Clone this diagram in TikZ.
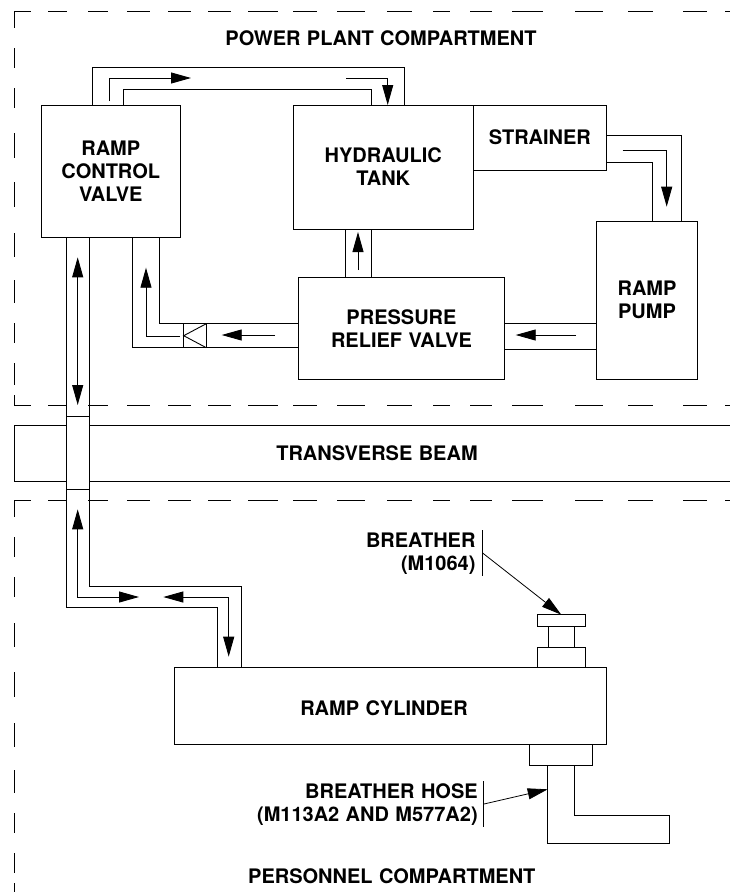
\documentclass[tikz,border=0pt]{standalone}
\usepackage{fontspec}
\setmainfont{TeX Gyre Heros}[WordSpace=1.15]
\usetikzlibrary{arrows.meta}
\newcommand{\boxnode}[6]{%
  \pgfmathsetmacro{\bw}{#4-#2}\pgfmathsetmacro{\bh}{#5-#3}%
  \pgfmathsetmacro{\bx}{(#2+#4)/2}\pgfmathsetmacro{\by}{(#3+#5)/2}%
  \node[boxshape,minimum width=\bw pt,minimum height=\bh pt] (#1) at (\bx,\by) {#6};}
\tikzset{
  lbl/.style={font=\bfseries\fontsize{20}{23}\selectfont,align=center,inner sep=0pt,outer sep=0pt},
  boxshape/.style={draw,lbl,line width=.9pt},
  pipe/.style={line width=.9pt,line join=miter},
  dashrule/.style={line width=.9pt},
  flow/.style={line width=.9pt,-{Triangle[length=20pt,width=11pt]}},
  dflow/.style={line width=.9pt,{Triangle[length=20pt,width=11pt]}-{Triangle[length=20pt,width=11pt]}},
  leader/.style={line width=.8pt,-{Triangle[length=20pt,width=11pt]}},
  bar/.style={line width=.9pt}
}
\begin{document}
\begin{tikzpicture}[x=1pt,y=-1pt]
\useasboundingbox (0,0) rectangle (730,892);
% compartment boundaries
\foreach \yy in {11,405,500}{
  \foreach \a/\b in {14/31,48/67,88/108,127/150,168/191,208/231,248/278,293/317,337/365,387/412,433/450,470/492,512/543,575/603,628/653,683/707,725/730}
    \draw[dashrule] (\a,\yy) -- (\b,\yy);
}
\foreach \a/\b in {11/28,48/68,88/108,133/158,182/207,233/257,280/303,323/343,363/385,395/405,
  500/517,537/557,577/597,623/647,672/697,723/747,770/793,813/833,853/873,883/892}
  \draw[dashrule] (14,\a) -- (14,\b);
% boxes
\boxnode{valve}{41}{105}{180.5}{237}{RAMP\\CONTROL\\VALVE}
\boxnode{tank}{293.5}{105}{473}{229}{HYDRAULIC\\TANK}
\boxnode{strainer}{473}{105}{606.7}{170}{STRAINER}
\boxnode{pump}{596.3}{221}{697.7}{379.5}{RAMP\\PUMP}
\boxnode{prv}{298.3}{277.5}{504.7}{379.5}{PRESSURE\\RELIEF VALVE}
\boxnode{cyl}{174}{667.7}{606}{744.7}{}
\boxnode{brcap}{537.3}{614.7}{585.3}{626}{}
\boxnode{brneck}{548}{626}{574}{647.3}{}
\boxnode{brbase}{537.3}{647.3}{585.3}{667.7}{}
\boxnode{hosecol}{529.3}{744.7}{592.7}{765.7}{}
% labels
\node[lbl] (t1) at (381,38.3) {POWER PLANT COMPARTMENT};
\node[lbl] (t2) at (377,453) {TRANSVERSE BEAM};
\node[lbl] (t3) at (384,707.7) {RAMP CYLINDER};
\node[lbl,align=right,anchor=east] (t4) at (475.5,554) {BREATHER\\(M1064)};
\node[lbl,align=right,anchor=east] (t5) at (477.7,805) {BREATHER HOSE\\(M113A2 AND M577A2)};
\node[lbl] (t6) at (391.8,875.7) {PERSONNEL COMPARTMENT};
% valve to tank pipe
\draw[pipe] ([xshift=51.5pt]valve.north west) -- ++(0,-38) -| ([xshift=110.5pt]tank.north west);
\draw[pipe] ([xshift=82pt]valve.north west) -- ++(0,-15.5) -| ([xshift=78.2pt]tank.north west);
\coordinate (f1a) at (109,101); \coordinate (f1b) at (191,78);
\draw[flow] (f1a) |- (f1b);
\coordinate (f2a) at (346,78);
\draw[flow] (f2a) -| ([xshift=94.2pt]tank.north west);
% prv to tank
\draw[pipe] ([xshift=51.5pt]tank.south west) -- ([xshift=46.7pt]prv.north west);
\draw[pipe] ([xshift=77.8pt]tank.south west) -- ([xshift=73pt]prv.north west);
\coordinate (f3a) at (358,270); \coordinate (f3b) at (358,232);
\draw[flow] (f3a) -- (f3b);
% prv to valve
\draw[pipe] ([yshift=-46.2pt]prv.north west) -- ++(-138.6,0) |- ([xshift=-20.8pt]valve.south east) ;
\draw[pipe] ([yshift=-70.2pt]prv.north west) -- ++(-165.6,0) -- ([xshift=91.7pt]valve.south west);
% check valve
\coordinate (cv1) at (183.7,323.7); \coordinate (cv2) at (183.7,347.7);
\coordinate (cv3) at (206.3,323.7); \coordinate (cv4) at (206.3,347.7);
\coordinate (cv5) at (183.7,335.7);
\draw[pipe] (cv1) -- (cv2);
\draw[pipe] (cv3) -- (cv4);
\draw[pipe] (cv3) -- (cv5) -- (cv4);
\coordinate (f4a) at (275,335); \coordinate (f4b) at (221.7,335);
\draw[flow] (f4a) -- (f4b);
\coordinate (f5a) at (180,336); \coordinate (f5b) at (146,267.7);
\draw[flow] (f5a) -| (f5b);
% pump to prv
\draw[pipe] ([yshift=-46.2pt]prv.north east) -- ([yshift=-102.7pt]pump.north west);
\draw[pipe] ([yshift=-71.5pt]prv.north east) -- ([yshift=-128pt]pump.north west);
\coordinate (f6a) at (576,335); \coordinate (f6b) at (515.7,335);
\draw[flow] (f6a) -- (f6b);
% strainer to pump
\draw[pipe] ([yshift=-30.7pt]strainer.north east) -| ([xshift=84.7pt]pump.north west);
\draw[pipe] ([yshift=-57.3pt]strainer.north east) -| ([xshift=56.4pt]pump.north west);
\coordinate (f7a) at (622.7,150.7); \coordinate (f7b) at (666.7,206.7);
\draw[flow] (f7a) -| (f7b);
% long pipe through the beam
\draw[pipe] ([xshift=25pt]valve.south west) -- ++(0,370.7) -| ([xshift=43.3pt]cyl.north west);
\draw[pipe] ([xshift=48pt]valve.south west) -- ++(0,349.7) -| ([xshift=67.7pt]cyl.north west);
\coordinate (c1) at (66,416.7); \coordinate (c2) at (89,416.7);
\coordinate (c3) at (66,489.3); \coordinate (c4) at (89,489.3);
\draw[pipe] (c1) -- (c2);
\draw[pipe] (c3) -- (c4);
\coordinate (f8a) at (77.7,257.3); \coordinate (f8b) at (77.7,405);
\draw[dflow] (f8a) -- (f8b);
\coordinate (f9a) at (77.7,509.3); \coordinate (f9b) at (139,597);
\draw[dflow] (f9a) |- (f9b);
\coordinate (f10a) at (163.3,597); \coordinate (f10b) at (228.7,656.7);
\draw[dflow] (f10a) -| (f10b);
% transverse beam
\coordinate (b1) at (66,425.7); \coordinate (b2) at (14,425.7);
\coordinate (b3) at (14,481); \coordinate (b4) at (66,481);
\coordinate (b5) at (89,425.7); \coordinate (b6) at (730,425.7);
\coordinate (b7) at (89,481); \coordinate (b8) at (730,481);
\draw[pipe] (b1) -- (b2) -- (b3) -- (b4);
\draw[pipe] (b5) -- (b6);
\draw[pipe] (b7) -- (b8);
% hose
\coordinate (h1) at (669.7,815.3); \coordinate (h2) at (669.7,843);
\draw[pipe] ([xshift=18.4pt]hosecol.south west) |- (h2) -- (h1) -| ([xshift=45pt]hosecol.south west);
% callouts
\coordinate (l1a) at (482,530); \coordinate (l1b) at (482,576);
\draw[bar] (l1a) -- (l1b);
\coordinate (l2a) at (483.7,781); \coordinate (l2b) at (483.7,827.3);
\draw[bar] (l2a) -- (l2b);
\coordinate (l1c) at (483,553.3); \coordinate (l2c) at (484,804);
\draw[leader] (l1c) -- (brcap.north);
\draw[leader] (l2c) -- ([yshift=-23.6pt,xshift=18.4pt]hosecol.south west);
\end{tikzpicture}
\end{document}
